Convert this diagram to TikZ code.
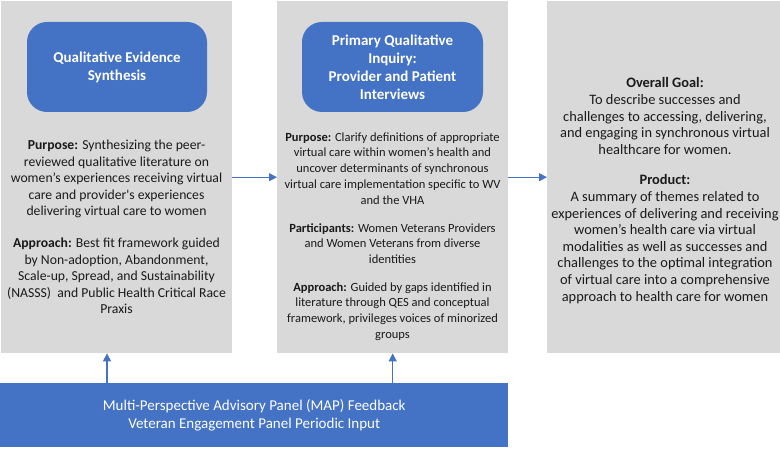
\documentclass[tikz,border=0pt]{standalone}
\usepackage{fontspec}
\setmainfont{Carlito}[Ligatures=TeXOff]
\usetikzlibrary{arrows.meta}
\definecolor{panelgray}{HTML}{D9D9D9}
\definecolor{officeblue}{HTML}{4472C4}
\definecolor{bodytext}{HTML}{1A1A1A}
\begin{document}
\begin{tikzpicture}[x=1pt,y=-1pt,
  panel/.style={fill=panelgray, draw=none, inner sep=0pt, anchor=north west},
  titlebox/.style={fill=officeblue, draw=none, rounded corners=20pt, text=white,
    font=\fontsize{15}{18}\selectfont\bfseries, align=center, inner sep=0pt},
  body/.style={align=center, inner sep=0pt, anchor=north, text=bodytext,
    font=\fontsize{13.7}{16.5}\selectfont},
  bodysmall/.style={body, font=\fontsize{12.5}{15.75}\selectfont},
  bodylarge/.style={body, font=\fontsize{14.4}{16.6}\selectfont},
  arr/.style={draw=officeblue, line width=1.2pt, -{Triangle[length=8pt,width=8pt]}}]
\useasboundingbox (0,0) rectangle (780,449);
% panels
\node[panel, minimum width=231pt, minimum height=352pt] (p1) at (1,1) {};
\node[panel, minimum width=231pt, minimum height=352pt] (p2) at (277,1) {};
\node[panel, minimum width=233pt, minimum height=352pt] (p3) at (547,1) {};
% title boxes
\node[titlebox, minimum width=180pt, minimum height=90pt] (t1) at (117,67)
  {Qualitative Evidence\\Synthesis};
\node[titlebox, minimum width=181pt, minimum height=90pt] (t2) at (392.5,67)
  {Primary Qualitative\\Inquiry:\\Provider and Patient\\Interviews};
% panel 1 text
\node[body] (pur1) at (116.5,138) {\strut\textbf{Purpose:} Synthesizing the peer-\\reviewed qualitative literature on\\women’s experiences receiving virtual\\care and provider's experiences\\delivering virtual care to women};
\node[body] (app1) at (116.5,236) {\strut\textbf{Approach:} Best fit framework guided\\by Non-adoption, Abandonment,\\Scale-up, Spread, and Sustainability\\(NASSS)~ and Public Health Critical Race\\Praxis};
% panel 2 text
\node[bodysmall] (pur2) at (392.5,130) {\strut\textbf{Purpose:} Clarify definitions of appropriate\\virtual care within women’s health and\\uncover determinants of synchronous\\virtual care implementation specific to WV\\and the VHA};
\node[bodysmall] (par2) at (392.5,221) {\strut\textbf{Participants:} Women Veterans Providers\\and Women Veterans from diverse\\identities};
\node[bodysmall] (app2) at (392.5,280) {\strut\textbf{Approach:} Guided by gaps identified in\\literature through QES and conceptual\\framework, privileges voices of minorized\\groups};
% panel 3 text
\node[bodylarge] (goal) at (665,76) {\strut\textbf{Overall Goal:}\\To describe successes and\\challenges to accessing, delivering,\\and engaging in synchronous virtual\\healthcare for women.};
\node[bodylarge] (prod) at (665,173) {\strut\textbf{Product:}\\A summary of themes related to\\experiences of delivering and receiving\\women’s health care via virtual\\modalities as well as successes and\\challenges to the optimal integration\\of virtual care into a comprehensive\\approach to health care for women};
% bottom box
\node[fill=officeblue, draw=none, minimum width=508pt, minimum height=64pt, anchor=north west,
  inner sep=0pt, text=white, align=center, font=\fontsize{15}{17.5}\selectfont] (map) at (0,383)
  {Multi-Perspective Advisory Panel (MAP) Feedback\\Veteran Engagement Panel Periodic Input};
% connectors
\coordinate (a1) at (107,0);
\draw[arr] (p1) -- (p2);
\draw[arr] (p2) -- (p3);
\draw[arr] (map.north -| a1) -- (p1.south -| a1);
\draw[arr] (map.north -| p2.south) -- (p2.south);
\end{tikzpicture}
\end{document}
